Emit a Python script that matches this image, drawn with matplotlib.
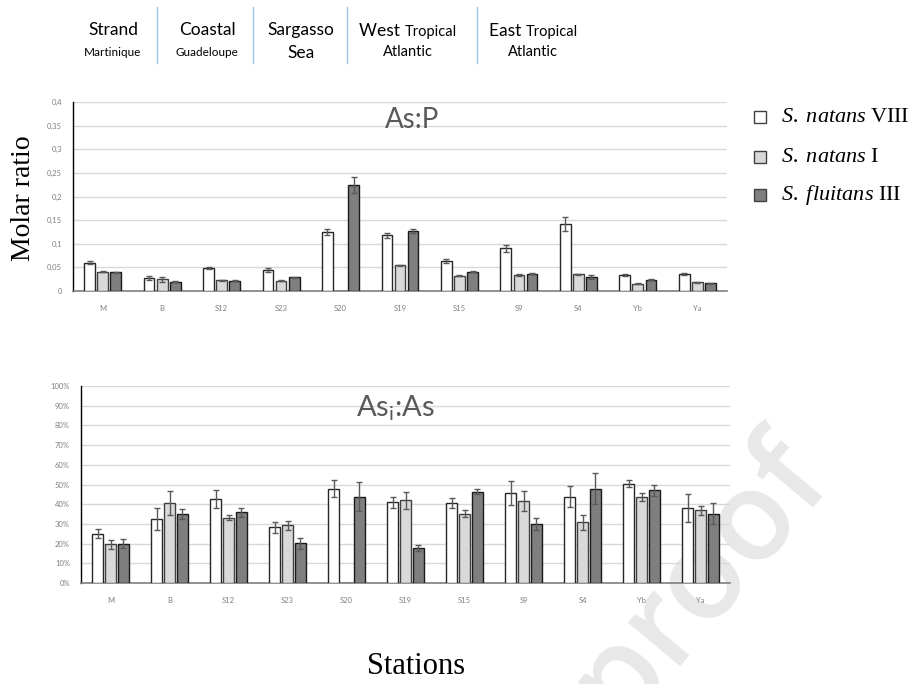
import numpy as np
import matplotlib
matplotlib.use('Agg')
import matplotlib.pyplot as plt
from matplotlib.patches import Rectangle
from matplotlib.lines import Line2D

# Data
stations = ['M', 'B', 'S12', 'S23', 'S20', 'S19', 'S15', 'S9', 'S4', 'Yb', 'Ya']
series   = ['S. natans', 'S. natans', 'S. fluitans']
suffix   = ['VIII', 'I', 'III']

asp_viii = [0.060, 0.028, 0.049, 0.044, 0.125, 0.118, 0.063, 0.090, 0.142, 0.033, 0.036]
asp_i    = [0.041, 0.025, 0.023, 0.022, 0.0,   0.054, 0.032, 0.033, 0.035, 0.015, 0.018]
asp_iii  = [0.040, 0.020, 0.022, 0.029, 0.225, 0.127, 0.041, 0.037, 0.029, 0.024, 0.016]
asp_viii_err = [0.003, 0.004, 0.0015, 0.004, 0.007, 0.005, 0.004, 0.008, 0.015, 0.002, 0.002]
asp_i_err    = [0.001, 0.005, 0.001, 0.001, 0.0,   0.001, 0.001, 0.002, 0.001, 0.001, 0.001]
asp_iii_err  = [0.001, 0.001, 0.001, 0.001, 0.017, 0.004, 0.001, 0.002, 0.004, 0.001, 0.001]

asi_viii = [25.0, 32.7, 42.6, 28.4, 47.9, 41.1, 40.6, 45.7, 43.8, 50.4, 38.1]
asi_i    = [19.6, 40.6, 33.2, 29.3, 0.0,  42.0, 35.2, 41.8, 30.8, 43.5, 36.9]
asi_iii  = [20.0, 35.0, 35.9, 20.1, 43.8, 17.8, 46.4, 29.9, 47.9, 47.0, 35.2]
asi_viii_err = [2.4, 5.6, 4.5, 2.8, 4.4, 2.8, 2.6, 6.3, 5.3, 1.9, 7.2]
asi_i_err    = [2.2, 6.1, 1.4, 2.2, 0.0, 4.3, 1.8, 5.0, 3.8, 2.0, 2.3]
asi_iii_err  = [2.3, 2.5, 2.4, 2.8, 7.4, 1.4, 1.4, 3.0, 7.8, 3.0, 5.4]

regions_big   = ['Strand', 'Coastal', 'Sargasso', 'West', 'East']
regions_mid   = ['', '', '', 'Tropical', 'Tropical']
regions_small = ['Martinique', 'Guadeloupe', 'Sea', 'Atlantic', 'Atlantic']

# Style
W, H = 918, 684
face  = ['#ffffff', '#d9d9d9', '#7f7f7f']
edges = ['#262626', '#404040', '#1a1a1a']
SANS  = ['Lato', 'DejaVu Sans']
SERIF = ['Liberation Serif', 'DejaVu Serif']
plt.rcParams['mathtext.fontset'] = 'custom'
plt.rcParams['mathtext.it'] = 'Liberation Serif:italic'
plt.rcParams['mathtext.rm'] = 'Lato'

fig = plt.figure(figsize=(W / 100, H / 100), dpi=100)

def px(x, y):
    return x / W, 1 - y / H

def box(l, t, r, b):
    return [l / W, 1 - b / H, (r - l) / W, (b - t) / H]

# watermark (behind the charts)
fig.text(*px(838, 490), 'Journal Pre-proof', fontsize=90, color='#e8e8e8',
         family=['Open Sans', 'DejaVu Sans'], weight='semibold', rotation=50,
         rotation_mode='anchor', ha='right', va='baseline', zorder=-5)

def bar_chart(ax, vals, errs, ymax, ticks, labels):
    x = np.arange(len(stations))
    w, step = 0.18, 0.22
    for k in range(3):
        v = np.array(vals[k])
        e = np.array(errs[k])
        pos = x + (k - 1) * step
        ax.bar(pos, v, w, color=face[k], edgecolor=edges[k], linewidth=1.0, zorder=3)
        m = v > 0
        ax.errorbar(pos[m], v[m], yerr=e[m], fmt='none', ecolor='#595959',
                    elinewidth=1.0, capsize=2.5, capthick=1.0, zorder=4)
    ax.set_xlim(-0.5, len(stations) - 0.5)
    ax.set_ylim(0, ymax)
    ax.set_yticks(ticks)
    ax.set_yticklabels(labels)
    ax.set_xticks(x)
    ax.set_xticklabels(stations)
    ax.tick_params(length=0, labelsize=5.5, labelcolor='#7f7f7f', pad=8)
    for lab in ax.get_xticklabels() + ax.get_yticklabels():
        lab.set_family(SANS)
    ax.grid(axis='y', color='#d9d9d9', linewidth=1.0, zorder=0)
    ax.set_axisbelow(True)
    for s in ['top', 'right']:
        ax.spines[s].set_visible(False)
    ax.spines['left'].set_color('#000000')
    ax.spines['bottom'].set_color('#7f7f7f')
    ax.spines['left'].set_linewidth(1.0)
    ax.spines['bottom'].set_linewidth(1.2)
    ax.set_facecolor('none')

# top chart: As:P
ax1 = fig.add_axes(box(73, 102, 727, 291))
t1 = np.arange(0, 0.41, 0.05)
bar_chart(ax1, [asp_viii, asp_i, asp_iii], [asp_viii_err, asp_i_err, asp_iii_err],
          0.4, t1, ['0' if v == 0 else f'{v:.2f}'.rstrip('0').replace('.', ',') for v in t1])
ax1.tick_params(axis='x', pad=10)
fig.text(*px(412, 120), 'As:P', fontsize=20, color='#595959', family=SANS,
         ha='center', va='center')

# bottom chart: Asi:As
ax2 = fig.add_axes(box(81, 386, 730, 583))
t2 = np.arange(0, 101, 10)
bar_chart(ax2, [asi_viii, asi_i, asi_iii], [asi_viii_err, asi_i_err, asi_iii_err],
          100, t2, [f'{v}%' for v in t2])
ax2.tick_params(axis='x', pad=10)
fig.text(*px(395, 408), r'As$_\mathregular{i}$:As', fontsize=21, color='#595959',
         family=SANS, ha='center', va='center')

# axis titles
fig.text(*px(24, 198), 'Molar ratio', fontsize=20, family=SERIF, rotation=90,
         ha='center', va='center')
fig.text(*px(416, 667), 'Stations', fontsize=22, family=SERIF, ha='center', va='center')

# legend
for k, yy in enumerate([117, 157, 195]):
    x0, y0 = px(754, yy + 6)
    fig.patches.append(Rectangle((x0, y0), 12 / W, 12 / H, transform=fig.transFigure,
                                 facecolor=face[k], edgecolor='#404040', linewidth=1.0))
    name = series[k].replace(' ', r'\ ')
    fig.text(*px(781, yy), rf'$\mathit{{{name}}}$ {suffix[k]}', fontsize=16,
             family=SERIF, ha='left', va='center')

# region header
centers = [113, 207, 301, 408, 533]
renderer = fig.canvas.get_renderer()
for i, c in enumerate(centers):
    if regions_mid[i]:
        a = fig.text(0, 0, regions_big[i] + ' ', fontsize=12.5, family=SANS)
        b = fig.text(0, 0, regions_mid[i], fontsize=10.5, family=SANS)
        wa = a.get_window_extent(renderer).width
        wb = b.get_window_extent(renderer).width
        left = c - (wa + wb) / 2
        a.set_position(px(left, 36)); a.set_va('baseline')
        b.set_position(px(left + wa, 36)); b.set_va('baseline')
        fig.text(*px(c, 52), regions_small[i], fontsize=10.5, family=SANS,
                 ha='center', va='center')
    else:
        fig.text(*px(c, 30), regions_big[i], fontsize=12.5, family=SANS,
                 ha='center', va='center')
        small = 12.5 if regions_small[i] == 'Sea' else 8.5
        fig.text(*px(c, 53), regions_small[i], fontsize=small, family=SANS,
                 ha='center', va='center')
for xs in [157, 253, 347, 477]:
    fig.add_artist(Line2D([xs / W, xs / W], [1 - 7 / H, 1 - 63 / H],
                          transform=fig.transFigure, color='#9dc3e6', linewidth=1.0))

fig.savefig('out.png', dpi=100)
